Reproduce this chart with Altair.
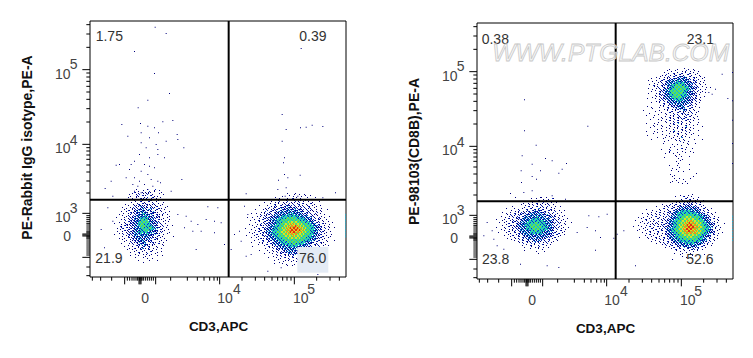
import altair as alt
import pandas as pd

# All positions are instrument display channels (0-768 across the plot, y counted downward).
COL = ["#00007c", "#0a2fc4", "#16b2d6", "#2edca6", "#62e04e", "#dce022", "#f09018", "#e62a10"]
STEP = 6

BLOB_A_ORIGIN = (66, 504)
BLOB_A = [
"............1..1.1...2.1.......",
"...........2.1.11.21.1..1......",
"..........1.12.1.21.1..1.1.....",
".........1..21.21..2.11........",
"........1.1.1.2112.12.1.1......",
"...........1.2.1.1.2...1.......",
".........1.1..2.1.2.1.1..1.....",
"......1...1.12.2121.21.1.1.....",
"........1..2123212.2.12.1..1...",
".....1.1.1212.2322.321.21.1....",
"......1.2.1223231232.12.1.1....",
"....1..1.212323332.2321.1.1.1..",
"...1.1..12.2232433232.21.2.1...",
".....1.12.22333343323.22.1..1..",
"..1...1.1223234444323221.1.1...",
"....1.2.12233345453322.21.1.1..",
"...1..1.2223345555433232.1..1..",
".1..1.12122334554443322.2.1....",
"....2.21.22234555444332.12.1..1",
"..1.12.21223334544554332.1.1...",
"....1.212.2333445544332.2.1.1..",
"..1..1.1222334444433322.21..1..",
"...1.2.12223334334332321.1.1...",
".....1.12.23323333322.12.1....1",
"...1..1.212233323232212.1.1....",
".....1.1.12223332322.21.1..1...",
"......1..2.223233.2221.1.1.....",
"....1...1.2.1232321.21.2.1.....",
"......1.1.1.22.2312.1.1..1.....",
"........1..2.1231.2.1.1.1......",
".......1..1.1.2.1.2.1.1........",
".........1.1.2.1.1.2..1.1......",
"...........1.1.1.2.1.1.........",
".........1...1..1.1...1..1.....",
"...........1...1.1..1..........",
".............1....1...1........",
"...............1...............",
]

BLOB_B_ORIGIN = (462, 516)
BLOB_B = [
".....................1...1.1..1...............",
"...................1..1.1...1.1..1............",
"...............1.1...1..2.1.1..1...1..........",
"...........1.....1.2.1.1.1..2.1.1.............",
"..........1..1.1.2.1.2.1.2.2.1..1.1..1........",
".............1.2.1.12.2.2.12.2.1.2.1..........",
".......1...1.1.21.2.2322.2.212.12.1.1.1.......",
"..........1.2.12.2322232232.2.2.21.1..1.......",
".....1...1.2.1222.232333232322.2.21.1.1..1....",
"........1.2.12.223333333333232.22.1.2.1.......",
"...1..1.1.1222.23233334343333222.2.21.1.1.....",
"......1.2.21.2233334444444433333.22.1.1...1...",
".1..1..1.1222233344445555544443333.2.21.1.....",
"...1.1.2.2.2233344455555555544433322.2.1.1....",
".....1.1.12.22334445556666655544433.22.1..1.1.",
"..1...1.2.22233344556667766665554433.2.21.1...",
"....1.1.21.2233444556677787766555443322.1.1...",
"1....1.2.222333445566778888776655443322.2.1..1",
"...1.1.12.22334445566778888877655443322.1.1...",
"..1..1.2.2233344556667788877766554433.22.1.1..",
"....1.2.12.2334445566677777666555443322.1..1..",
".1...1.1.22233344555666676666555443322.2.1.1..",
"...1..1.21.2233344455566666655544433222.1.1...",
".....1.1.2.2223334445555555555444333.2.1.1...1",
"...1...1.2.12.233344445555554443332.2.21.1....",
".......1.1.2.223333444445544443332.22.1.1.....",
"....1.....1.2.12233333444443333222.1.2.1..1...",
"..........1.1.2.2223333333333222.2.1.1........",
".......1...1..1.22.2323333232.2.2.1...........",
"............1.1.2.2223332322..................",
"..........1...1.1.2.2.32232...................",
"..............1.1.2.1.2.2.....................",
"............1...1.1.2.1.2.1...................",
"...............1.1..1.2.1.1...................",
".................1.1...1..1....................",
"...............1...1.1...1....................",
".....................1..1.....................",
]

BLOB_C_ORIGIN = (468, 513)
BLOB_C = [
".......................1...1.1................",
".....................1...2.1.1..1.............",
"........................1.2.2.1.1.............",
"..................1...1.2.1.12.1...1..........",
"...................1.1.2.2.212.2.1............",
"..............1.1.2.12.2.22222.1.2.1..........",
"...........1...1.2.12.22323232322.1.1.........",
"......1......1.2.1.2.2233333333322.2.1.1......",
".........1.1.1.1.12.23334444433332.2.1........",
"....1..1.1.1.2.1.2223344444444443322.2.1.1....",
".......1.2.1.2.1.2.2334445555544443322.1......",
"..1..1.1.1.2.1.12.233344556665555443322.1.1...",
"....1.2.1.1.2.12.2233445566666655443322.2.1...",
".1..1.1.1.2.1.1.22334455666777666554332.1.1...",
"...1.1.2.1.21.2.2233445566778776665443322.1..1",
"..1...1.1.2.1.22.233445667788877665443322.1...",
"1...1.1.2.1.21.2223344566778888776654433.2.1..",
"...1.1.1.2.2.12.233445566788887766554432.1.1..",
"..1...1.2.1.2.2.2334455667788777665544322.1...",
"....1.1.1.1.2.1.2233445566777777665443322.1.1.",
"......1.2.1.1.1.22333445566666665544332.2.1...",
"...1...1.1.2.1.2.2333445555666555443322.1.....",
".......1.1.1.2.2.22333444555555544433.2.1.1...",
".........1.1.1.1.2.233344444445444333.2.1.....",
"...........1.1.2.2.22233334444433332.2.1......",
"..............1.2.12.2223333333332.2.1.1......",
"................1.1.2.22.32323222.2.1.........",
"...................1.2.2.1.2.22.2.1...........",
".....................1.1.1..1.1.1.............",
"....................1...1.1.1.................",
".......................1.....1.....1..........",
"........................1.1....................",
"...................1.........1.................",
]

BLOB_D_ORIGIN = (51, 519)
BLOB_D = [
".......................1..1.............",
"..................1..1..1..1.2..........",
"................1...1.2.1.1.1...........",
"..............1..1.1.2..2.1.1..1........",
".............1.1.1.2.1.2.1.2.1..........",
".........1.....1.2.1.2.12.2.1.1..1......",
"......1...1.1.1.2.2.2.3.2.1.2.1.........",
"........1.1.2.1.22.23232.2.21.2.1..1....",
"....1.1.1.2.1222.233323322.2.2.1.1......",
"......1.2.2.22.23233333332322.2.1..1....",
"...1.1.1.2.22.233333343333.2322.1.1.....",
".1...1.2.1.22233333444433333.22.2.1.1...",
"....1.1.1222.23334444444433332.2.1.1....",
"..1..1.2.2.22333444455444433322.21.1..1.",
"....1.1.21.2333444555554443332.2.1.1....",
".1...1.2.1222333445555554443322.2.1..1..",
"...1.1.1.2.2233344455554444332.2.1.1....",
".....1.2.12.233333445444433332.1.2.1....",
"..1...1.1.2.2233334444443333222.2.1.....",
".....1.1.2.12.2333333333333222.2.1.1....",
"........1.1.2.222333233332322.2.1.......",
"......1.1.1.2.2.2323232322.2.1.1........",
"..........1.1.2.22.23232.2.2.1.1........",
"............1.2.1.2.2.2.1.2.1...........",
"..............1.1.2.1.1.2.1.1...........",
"...............1..1.1.2.1..1............",
"..................1...1.1...............",
"...............1.....1...1..............",
"......................1.................",
]

BLOB_E_ORIGIN = (492, 135)
BLOB_E = [
"..............1...1..1.1..1........",
".............1.1.1..1.2.1.1.1......",
"...........1.1..2.1.2.1.2.1.1......",
"..........1.2.1.12.2.1.2.1.1.1.....",
".......1.1.1.21.2.23232.2.21.1.1...",
".....1...1.2.122323333322.2.1.1....",
"...1.1.1.12.2333334333332.22.1.1...",
"......1.1.2.2333344444332322.1.1...",
"....1.2.1.2223344555443332.2.1..1..",
"......1.2.12.3344555554433222.1.1..",
"...1.1.1.2.23344555555443322.1..1..",
".....1.1.222334555555443322.2.1....",
"...1...1.2.23345555554433322.1..1..",
".......1.2223344555544433222.1.....",
".....1.1.2.233345555443332.2.1.1...",
"...1...1.1222333444443332222.1.....",
".......1.2.2.2333344333322.2.1.....",
".....1...1.2.2233333332322.1.1.....",
".........1.2.1222233322.22.1.......",
"...1.1...1.1.2.2223233.2.2.1.1.....",
".....1.....1.2.1.223232.2.1........",
".1.....1.1...1.2.1.2.32.2.1.1......",
"....1.....1.1.2.1.2.22.1.2.1.......",
"..1...1.1...1.1.2.2.1.22.1.1.......",
"......1...1.1.2.1.22.12.2.1.1......",
"....1...1.1.1.1.2.1.22.21.1.1......",
"..........1.1.2.1.2.1.2.1.1........",
"..1...1.1...1.1.2.3.2.1.1...1......",
"......1.1.1...1.2.1.1.2.1.1.1......",
"....1.1...1.1.1.1.2.1.3.1.....1....",
"........1.1...1.1.1.2.1.1.1........",
"..1...1...1.1.1.3.1.1.2.1...1......",
"......1.1.....1.1.2.1.1.1.1........",
"...1......1.1...1.1.1.1..1..1......",
"........1...1.1.1.1.3.1.1..........",
".....1.....1...1.1.1.1....1...1....",
"...........1.1...1.2.1.1...........",
"...........1.........1.1...1.......",
"...............1..1.1..1...........",
"..............1.1.....1............",
"..........1...1...1.2.1..1.........",
"..............2.....1...1..........",
"............1.1.1.1...1...1........",
".................1.1...............",
"...........1.....1..1...1..........",
"..................1.1..............",
".................1.1...............",
"..................1................",
"..............1...1.....1..........",
"...................1...............",
"...............1.1......1..........",
"...............1..1..1.............",
"...........................1.......",
"..............1.1..................",
"...............1..........1........",
"................1..1.1..1...........",
"...............1.1....1.............",
"..............1...1.1..1............",
]

DOTS_LEFT = [
(194,17),(227,36),(132,90),(192,156),(237,216),(172,236),(143,259),(150,306),(94,309),(112,344),
(172,314),(192,319),(217,301),(247,297),(260,339),(152,334),(177,349),(204,334),(227,359),(152,364),
(197,369),(167,379),(202,384),(280,379),(147,399),(177,409),(202,399),(222,409),(262,354),(77,431),
(87,429),(122,429),(132,419),(162,429),(177,434),(192,439),(152,449),(117,444),(44,501),(62,479),
(107,469),(132,469),(147,479),(182,474),(202,479),(172,459),(127,489),(142,494),(162,489),(187,494),
(210,484),(132,509),(152,514),(172,504),(192,509),(117,519),(242,509),(67,524),(274,474),
(575,279),(587,324),(630,319),(647,317),(665,311),(697,315),(575,359),(582,409),(579,424),(582,459),
(629,461),(564,476),(592,469),(562,504),(587,499),(467,517),(584,524),(612,519),(622,524),(735,514),
(697,529),(632,81),
(352,556),(382,559),(347,594),(372,599),(392,604),(302,599),(287,584),(322,609),(332,629),(402,669),
(317,684),(372,634),(262,579),(282,619),(307,629),(52,559),(67,599),(32,624),(72,639),(42,679),
(432,639),(447,629),(452,659),(467,704),(422,684),(482,699),(472,579),(462,554),
(532,749),(572,739),(662,749),(682,759),
]
DOTS_RIGHT = [
(141,229),(141,322),(331,308),(176,365),(134,397),(204,405),(164,422),(224,412),(267,420),(254,437),
(131,442),(189,442),(164,459),(244,449),(177,467),(132,477),(99,510),(139,507),(164,502),(189,522),
(264,527),(224,517),(114,522),(334,577),(364,580),(389,572),(329,612),(354,622),(369,642),(409,644),
(354,680),(299,627),(29,597),(44,622),(49,647),(19,637),(79,677),(59,667),(244,732),(129,722),(209,727),
(474,727),(419,632),(439,622),(699,192),(714,197),(694,207),(704,212),(751,225),(734,152),(765,147),
(765,232),(765,290),(765,360),(765,420),
]
EDGE_LEFT_X, EDGE_LEFT_Y = 765, [580,586,592,598,604,610,616,622,628,634,640,646]
EDGE_RIGHT_X, EDGE_RIGHT_Y = 765, [578,586,594,602,610,618,626,634,642,650]

X_MINOR = [7,32,65,112,119,126,132,138,143,148,153,156,160,166,172,178,184,190,242,292,322,342,359,372,382,
           456,496,524,546,563,578,591,603,680,720,748]
X_MAJOR = [104,147,150,153,197,389,613]
Y_MINOR = [11,39,79,156,168,181,196,213,235,263,303,380,390,402,415,432,453,480,516,
           584,590,596,602,607,612,618,624,630,633,636,645,648,651,654,660,666,672,678,684,690,696,702,738,764]
Y_MAJOR = [146,370,577,639,642,645,709]

TICK_TEXT = ["0","10","4","10","5","10","5","10","4","10","3","0"]
TICK_X = [154,382,429,609,652,-105,-61,-105,-61,-105,-61,-80]
TICK_Y = [834,834,807,834,807,161,131,384,359,591,564,647]

LEFT_PCT = ["1.75","0.39","21.9","76.0"]
LEFT_PCT_X = [17,628,16,627]
LEFT_PCT_Y = [49,49,714,714]
RIGHT_PCT = ["0.38","23.1","23.8","52.6"]
RIGHT_PCT_X = [14,629,15,628]
RIGHT_PCT_Y = [50,50,712,712]

FONT = "Liberation Sans"
SUB = 3  # one sub-cell is one screen dot

def grid_rows(grid, origin):
    # Each typed density digit becomes a 2x2 block of dots. The digit sets how many of the
    # four dots are lit and in which colours, so sparse edges stay speckled.
    rows = []
    for r, line in enumerate(grid):
        for c, ch in enumerate(line):
            if ch == ".":
                continue
            v = int(ch)
            k = (r * 7 + c * 13) % 4
            if v == 1:
                parts = [1, 0, 0, 0]
            elif v == 2:
                parts = [2, 1, 0, 0]
            elif v == 3:
                parts = [3, 2, 1, 0]
            else:
                parts = [v, v - 1, v, max(v - 2, 2)]
            for i, p in enumerate(parts):
                if p == 0:
                    continue
                j = (i + k) % 4
                x0 = origin[0] + c * STEP + (j % 2) * SUB
                y0 = origin[1] + r * STEP + (j // 2) * SUB
                rows.append(dict(x=x0, x2=x0 + SUB, y=y0, y2=y0 + SUB, lvl=p))
    return rows

def dot_rows(dots, lvl=1):
    return [dict(x=x, x2=x + 3, y=y, y2=y + 3, lvl=lvl) for x, y in dots]

def panel(grids, dots, edge, pct, pct_x, pct_y, gate, ytitle, ytitle_y, yrange, height, patch=None, mark=None):
    sx = alt.Scale(domain=[0, 768], range=[0, 256], nice=False, zero=False)
    sy = alt.Scale(domain=[0, 768], range=yrange, nice=False, zero=False)
    X = lambda f: alt.X(f, type="quantitative", scale=sx)
    Y = lambda f: alt.Y(f, type="quantitative", scale=sy)

    rows = []
    for g, o in grids:
        rows += grid_rows(g, o)
    rows += dot_rows(dots)
    rows += dot_rows([(edge[0], v) for v in edge[1]], 3)
    cells = alt.Chart(pd.DataFrame(rows)).mark_rect(strokeWidth=0).encode(
        X("x"), alt.X2("x2"), Y("y"), alt.Y2("y2"),
        color=alt.Color("lvl:O", scale=alt.Scale(domain=list(range(1, 9)), range=COL), legend=None),
    )

    frame_df = pd.DataFrame([dict(x=0, x2=768, y=0, y2=768)])
    frame = alt.Chart(frame_df).mark_rect(fill="transparent", stroke="black", strokeWidth=1).encode(
        alt.X("x:Q", scale=sx, title="CD3,APC",
              axis=alt.Axis(values=[0], labels=False, ticks=False, domain=False, grid=False,
                            titleFont=FONT, titleFontSize=13.5, titleFontWeight="bold", titleColor="#111",
                            titlePadding=42)),
        alt.X2("x2"),
        alt.Y("y:Q", scale=sy, title=ytitle,
              axis=alt.Axis(values=[0], labels=False, ticks=False, domain=False, grid=False,
                            titleFont=FONT, titleFontSize=14, titleFontWeight="bold", titleColor="#111",
                            titlePadding=56, titleY=ytitle_y)),
        alt.Y2("y2"),
    )

    gx = alt.Chart(pd.DataFrame([dict(x=gate[0], y=0, y2=768)])).mark_rule(color="black", strokeWidth=2).encode(
        X("x"), Y("y"), alt.Y2("y2"))
    gy = alt.Chart(pd.DataFrame([dict(y=gate[1], x=0, x2=768)])).mark_rule(color="black", strokeWidth=2).encode(
        Y("y"), X("x"), alt.X2("x2"))

    xt = [dict(x=v, y=768, y2=790) for v in X_MAJOR] + [dict(x=v, y=768, y2=779) for v in X_MINOR]
    xticks = alt.Chart(pd.DataFrame(xt)).mark_rule(color="black", strokeWidth=1).encode(X("x"), Y("y"), alt.Y2("y2"))
    yt = [dict(y=v, x=0, x2=-23) for v in Y_MAJOR] + [dict(y=v, x=0, x2=-11) for v in Y_MINOR]
    yticks = alt.Chart(pd.DataFrame(yt)).mark_rule(color="black", strokeWidth=1).encode(Y("y"), X("x"), alt.X2("x2"))

    ticks_df = pd.DataFrame(dict(x=TICK_X, y=TICK_Y, t=TICK_TEXT))
    ticks = alt.Chart(ticks_df).mark_text(align="left", baseline="middle", font=FONT, fontSize=14, color="#444").encode(
        X("x"), Y("y"), text="t:N")
    pct_df = pd.DataFrame(dict(x=pct_x, y=pct_y, t=pct))
    pcts = alt.Chart(pct_df).mark_text(align="left", baseline="middle", font=FONT, fontSize=14, color="#333").encode(
        X("x"), Y("y"), text="t:N")

    layers = [frame, cells]
    if patch:
        layers.append(alt.Chart(pd.DataFrame([patch])).mark_rect(color="#e4ebf5", strokeWidth=0).encode(
            X("x"), alt.X2("x2"), Y("y"), alt.Y2("y2")))
    layers += [gx, gy, xticks, yticks, ticks, pcts]
    if mark:
        layers.append(alt.Chart(pd.DataFrame([mark])).mark_text(
            align="left", baseline="middle", font=FONT, fontSize=24.6, fontStyle="italic",
            fill="#f6f6f6", fillOpacity=0.7, stroke="#c8c8c8", strokeWidth=0.8).encode(X("x"), Y("y"), text="t:N"))
    return alt.layer(*layers).properties(width=256, height=height)

left = panel([(BLOB_A, BLOB_A_ORIGIN), (BLOB_B, BLOB_B_ORIGIN)], DOTS_LEFT, (EDGE_LEFT_X, EDGE_LEFT_Y),
             LEFT_PCT, LEFT_PCT_X, LEFT_PCT_Y, (416, 536), "PE-Rabbit IgG isotype,PE-A", 126, [0, 256], 256,
             patch=dict(x=622, x2=715, y=678, y2=755))
right = panel([(BLOB_C, BLOB_C_ORIGIN), (BLOB_D, BLOB_D_ORIGIN), (BLOB_E, BLOB_E_ORIGIN)], DOTS_RIGHT,
              (EDGE_RIGHT_X, EDGE_RIGHT_Y), RIGHT_PCT, RIGHT_PCT_X, RIGHT_PCT_Y, (416, 535),
              "PE-98103(CD8B),PE-A", 130, [2, 258], 258, mark=dict(x=46, y=92, t="WWW.PTGLAB.COM"))

chart = alt.hconcat(left, right, spacing=60).properties(
    padding=dict(left=12, top=12, right=0, bottom=0)
).configure_view(stroke=None)

chart.save("out.html", embed_options={"renderer": "svg", "actions": False})
